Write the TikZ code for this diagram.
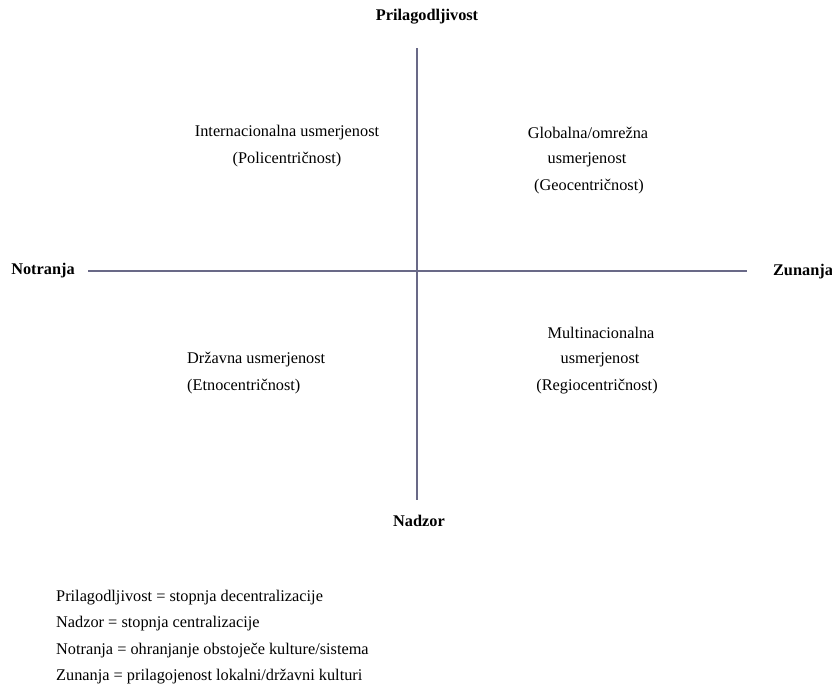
\documentclass[tikz,border=0pt]{standalone}
\usepackage{fontspec}
\setmainfont{Liberation Serif}
\definecolor{axiscol}{RGB}{105,105,135}
\begin{document}
\begin{tikzpicture}[x=1pt,y=-1pt,
  axis/.style={draw=axiscol,line width=2.4pt},
  axlabel/.style={font=\fontsize{16.3}{18}\selectfont\bfseries,inner sep=1pt},
  quad/.style={font=\fontsize{16.3}{18}\selectfont,align=center,inner sep=1pt},
  quadl/.style={font=\fontsize{16.3}{18}\selectfont,anchor=west,inner sep=0pt},
  legend/.style={font=\fontsize{16.3}{18}\selectfont,anchor=west,inner sep=0pt}]
\useasboundingbox (0,0) rectangle (832,691);
\node[axlabel] (top) at (427,17) {Prilagodljivost};
\node[axlabel] (bot) at (419,521) {Nadzor};
\node[axlabel] (left) at (43,271) {Notranja};
\node[axlabel] (right) at (803,272) {Zunanja};
\coordinate (vt) at (417,48);
\coordinate (vb) at (417,500);
\coordinate (hl) at (88,271);
\coordinate (hr) at (747,271);
\draw[axis] (vt) -- (vb);
\draw[axis] (hl) -- (hr);
\node[quad] (q1a) at (287,133) {Internacionalna usmerjenost};
\node[quad] (q1b) at (287,160) {(Policentričnost)};
\node[quad] (q2a) at (588,133) {Globalna/omrežna};
\node[quad] (q2b) at (587,160) {usmerjenost};
\node[quad] (q2c) at (589,187) {(Geocentričnost)};
\node[quadl] (q3a) at (187,360) {Državna usmerjenost};
\node[quadl] (q3b) at (187,387) {(Etnocentričnost)};
\node[quad] (q4a) at (601,333) {Multinacionalna};
\node[quad] (q4b) at (600,360) {usmerjenost};
\node[quad] (q4c) at (597,387) {(Regiocentričnost)};
\node[legend] (l1) at (56,598) {Prilagodljivost = stopnja decentralizacije};
\node[legend] (l2) at (56,624) {Nadzor = stopnja centralizacije};
\node[legend] (l3) at (56,651) {Notranja = ohranjanje obstoječe kulture/sistema};
\node[legend] (l4) at (56,677) {Zunanja = prilagojenost lokalni/državni kulturi};
\end{tikzpicture}
\end{document}
